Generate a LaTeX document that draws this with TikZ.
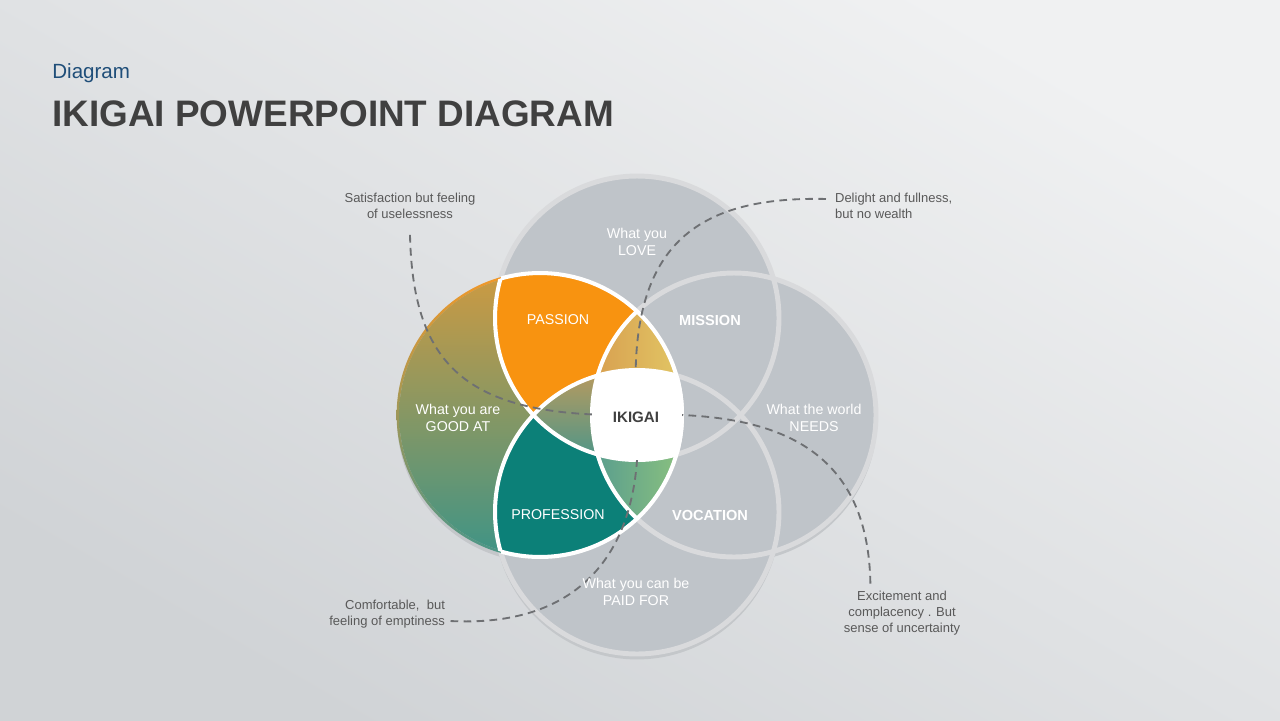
\documentclass[tikz,border=0pt]{standalone}
\usepackage{fontspec}
\setmainfont{Liberation Sans}
\usetikzlibrary{calc, positioning}

\definecolor{bgtop}{HTML}{F0F1F2}
\definecolor{bgbot}{HTML}{D0D3D6}
\definecolor{ringfill}{HTML}{BFC4C9}
\definecolor{ringline}{HTML}{D9DADC}
\definecolor{ringshadow}{HTML}{C4C7CA}
\definecolor{passion}{HTML}{F89310}
\definecolor{profession}{HTML}{0C8078}
\definecolor{goodtop}{HTML}{CC9A42}
\definecolor{goodmid}{HTML}{94965A}
\definecolor{goodbot}{HTML}{3F9486}
\definecolor{rimtop}{HTML}{F39828}
\definecolor{rimbot}{HTML}{4A978A}
\definecolor{upleft}{HTML}{D8A050}
\definecolor{upright}{HTML}{E2C866}
\definecolor{midtop}{HTML}{B89A5E}
\definecolor{midbot}{HTML}{4E9689}
\definecolor{lowleft}{HTML}{5A9E8E}
\definecolor{lowright}{HTML}{8CC27E}
\definecolor{dashgray}{HTML}{6E7073}
\definecolor{captext}{HTML}{595959}
\definecolor{titlegray}{HTML}{404040}
\definecolor{subblue}{HTML}{1F4E79}

\newcommand{\ringr}{2.84cm}

\tikzset{
  caption/.style={font=\fontsize{7.4}{9.1}\selectfont, text=captext, inner sep=1pt},
  ringlabel/.style={font=\fontsize{8.1}{9.6}\selectfont, text=white, align=center},
  ringhead/.style={font=\fontsize{8.3}{10}\selectfont\bfseries, text=white},
  link/.style={draw=dashgray, line width=1.05pt, dash pattern=on 4.4pt off 3pt},
  seam/.style={draw=white, line width=2.3pt},
}

\begin{document}
\begin{tikzpicture}[x=0.02cm, y=-0.02cm]
% background
\shade[top color=bgtop, bottom color=bgbot, shading angle=-30] (0,0) rectangle (1280,720);
\useasboundingbox (0,0) rectangle (1280,720);

% titles
\node[anchor=base west, inner sep=0, text=subblue, font=\fontsize{11.7}{14}\selectfont] (kicker) at (52,78) {Diagram};
\node[anchor=base west, inner sep=0, text=titlegray, font=\fontsize{21}{25}\selectfont\bfseries] (title) at (52,126) {IKIGAI POWERPOINT DIAGRAM};

% ring centres
\coordinate (love) at (637,318);
\coordinate (good) at (540,415);
\coordinate (world) at (734,415);
\coordinate (paid) at (637,512);
\coordinate (core) at (637,415);

% rings
\foreach \c in {love,good,world,paid}
  \fill[ringshadow] ([yshift=-2.5pt]\c) circle[radius=\ringr+0.6pt];
\foreach \c in {love,good,world,paid}
  \fill[ringfill] (\c) circle[radius=\ringr];
\foreach \c in {love,world,paid}
  \draw[ringline, line width=2.8pt] (\c) circle[radius=\ringr];

% good at ring
\shade[top color=rimtop, bottom color=rimbot, even odd rule]
  (good) circle[radius=\ringr+0.8pt] (good) circle[radius=\ringr-0.6pt];
\shade[top color=goodtop, middle color=goodmid, bottom color=goodbot] (good) circle[radius=\ringr-0.6pt];

% passion and profession
\begin{scope}
  \clip (good) circle[radius=\ringr];
  \fill[passion] (love) circle[radius=\ringr];
  \fill[profession] (paid) circle[radius=\ringr];
\end{scope}

% small lenses
\begin{scope}
  \clip (good) circle[radius=\ringr];
  \clip (love) circle[radius=\ringr];
  \clip (world) circle[radius=\ringr];
  \shade[left color=upleft, right color=upright] (595,305) rectangle (685,385);
\end{scope}
\begin{scope}
  \clip (good) circle[radius=\ringr];
  \clip (love) circle[radius=\ringr];
  \clip (paid) circle[radius=\ringr];
  \shade[top color=midtop, bottom color=midbot] (530,372) rectangle (600,458);
\end{scope}
\begin{scope}
  \clip (good) circle[radius=\ringr];
  \clip (paid) circle[radius=\ringr];
  \clip (world) circle[radius=\ringr];
  \shade[left color=lowleft, right color=lowright] (595,445) rectangle (685,522);
\end{scope}

% white seams
\begin{scope}
  \clip (good) circle[radius=\ringr];
  \foreach \c in {love,world,paid}
    \draw[seam] (\c) circle[radius=\ringr];
\end{scope}
\begin{scope}
  \clip (love) circle[radius=\ringr];
  \draw[seam] (good) circle[radius=\ringr];
\end{scope}
\begin{scope}
  \clip (paid) circle[radius=\ringr];
  \draw[seam] (good) circle[radius=\ringr];
\end{scope}

% captions
\node[caption, align=center] (sat) at (410,206) {Satisfaction but feeling\\of uselessness};
\node[caption, align=left, anchor=west] (del) at (833,206) {Delight and fullness,\\but no wealth};
\node[caption, align=right, anchor=east] (com) at (447,614) {Comfortable,~ but\\feeling of emptiness};
\node[caption, align=center] (exc) at (902,613) {Excitement and\\complacency . But\\sense of uncertainty};

% connectors
\draw[link] ([yshift=-8pt]sat.south) .. controls (413,370) and (470,418) .. (core);
\draw[link] ([xshift=-4pt, yshift=4pt]del.west) .. controls (690,196) and (625,250) .. (core);
\draw[link] ([xshift=2pt, yshift=-4pt]com.east) .. controls (590,628) and (645,540) .. (core);
\draw[link] ([xshift=-18pt, yshift=3pt]exc.north) .. controls (868,450) and (780,410) .. (core);

% ikigai core
\begin{scope}
  \clip (good) circle[radius=\ringr];
  \clip (love) circle[radius=\ringr];
  \clip (world) circle[radius=\ringr];
  \fill[white] (paid) circle[radius=\ringr];
\end{scope}

% labels
\node[ringlabel] (lovetext) at (637,242) {What you\\LOVE};
\node[ringlabel] (goodtext) at (458,418) {What you are\\GOOD AT};
\node[ringlabel] (worldtext) at (814,418) {What the world\\NEEDS};
\node[ringlabel] (paidtext) at (636,592) {What you can be\\PAID FOR};
\node[ringlabel] (passion) at (558,320) {PASSION};
\node[ringlabel] (profession) at (558,515) {PROFESSION};
\node[ringhead] (mission) at (710,320) {MISSION};
\node[ringhead] (vocation) at (710,515) {VOCATION};
\node[ringhead, text=titlegray, font=\fontsize{8.6}{10}\selectfont\bfseries] (ikigai) at (636,417) {IKIGAI};
\end{tikzpicture}
\end{document}
